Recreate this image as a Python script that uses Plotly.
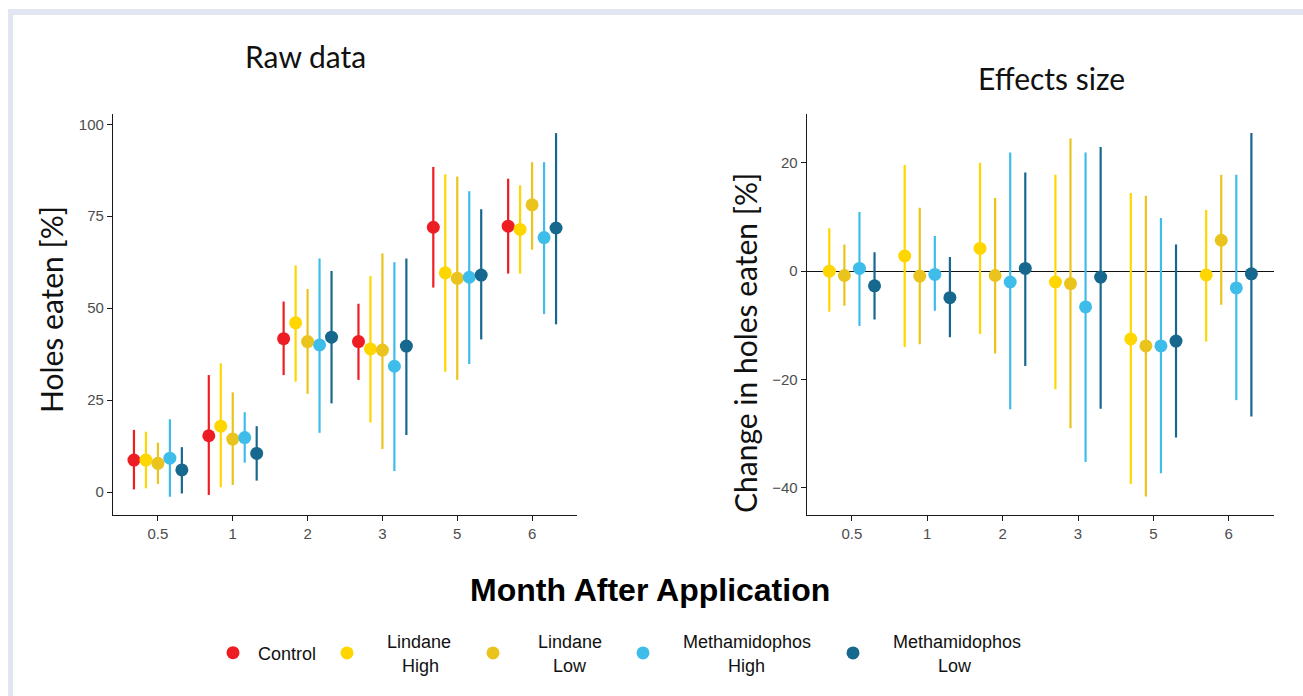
import plotly.graph_objects as go

W, H = 1303, 696

months = ["0.5", "1", "2", "3", "5", "6"]

# ---- Raw data (holes eaten, %) ----
control_mean = [8.7, 15.3, 41.7, 40.9, 72.0, 72.3]
control_lo = [0.7, -0.8, 31.8, 30.5, 55.6, 59.4]
control_hi = [16.9, 31.8, 51.8, 51.2, 88.4, 85.2]

lindane_high_mean = [8.7, 17.9, 46.0, 38.9, 59.6, 71.4]
lindane_high_lo = [1.0, 1.3, 30.0, 18.9, 32.7, 59.4]
lindane_high_hi = [16.4, 35.0, 61.6, 58.7, 86.4, 83.4]

lindane_low_mean = [7.8, 14.4, 40.9, 38.6, 58.1, 78.1]
lindane_low_lo = [2.2, 1.9, 26.7, 11.7, 30.5, 65.9]
lindane_low_hi = [13.4, 27.1, 55.2, 64.9, 85.8, 89.7]

meth_high_mean = [9.2, 14.8, 40.0, 34.2, 58.4, 69.2]
meth_high_lo = [-1.3, 8.0, 16.1, 5.7, 34.8, 48.4]
meth_high_hi = [19.8, 21.7, 63.5, 62.5, 81.8, 89.7]

meth_low_mean = [6.0, 10.5, 42.1, 39.7, 59.0, 71.8]
meth_low_lo = [-0.4, 3.1, 24.1, 15.5, 41.5, 45.6]
meth_low_hi = [12.2, 17.9, 60.1, 63.5, 76.9, 97.6]

# ---- Effect sizes (change in holes eaten, %) ----
eff_lindane_high_mean = [0.0, 2.8, 4.2, -2.0, -12.5, -0.7]
eff_lindane_high_lo = [-7.5, -14.0, -11.6, -21.8, -39.3, -13.0]
eff_lindane_high_hi = [7.9, 19.6, 20.0, 17.8, 14.4, 11.3]

eff_lindane_low_mean = [-0.8, -0.9, -0.8, -2.3, -13.8, 5.7]
eff_lindane_low_lo = [-6.4, -13.5, -15.2, -29.0, -41.6, -6.2]
eff_lindane_low_hi = [4.9, 11.7, 13.5, 24.5, 13.9, 17.8]

eff_meth_high_mean = [0.5, -0.6, -2.0, -6.6, -13.8, -3.1]
eff_meth_high_lo = [-10.1, -7.3, -25.5, -35.2, -37.3, -23.8]
eff_meth_high_hi = [10.9, 6.5, 21.9, 21.9, 9.8, 17.8]

eff_meth_low_mean = [-2.7, -4.9, 0.5, -1.1, -12.9, -0.5]
eff_meth_low_lo = [-8.9, -12.2, -17.5, -25.4, -30.7, -26.8]
eff_meth_low_hi = [3.5, 2.6, 18.2, 22.9, 4.9, 25.5]

treatments = ["Control", "Lindane High", "Lindane Low", "Methamidophos High", "Methamidophos Low"]
colors = ["#EE1D23", "#FFD600", "#EAC41C", "#3FBDEA", "#17688E"]

# legend labels (second line centred under first with no-break spaces)
NB = "\u00a0"
legend_labels = [
    NB + "Control",
    NB * 4 + "Lindane<br>" + NB * 4 + NB * 3 + "High",
    NB * 5 + "Lindane<br>" + NB * 5 + NB * 3 + "Low",
    NB * 4 + "Methamidophos<br>" + NB * 4 + NB * 9 + "High",
    NB * 4 + "Methamidophos<br>" + NB * 4 + NB * 9 + "Low",
]
legend_marker_px = [233, 347, 493, 643, 853]

raw_series = [
    (control_mean, control_lo, control_hi),
    (lindane_high_mean, lindane_high_lo, lindane_high_hi),
    (lindane_low_mean, lindane_low_lo, lindane_low_hi),
    (meth_high_mean, meth_high_lo, meth_high_hi),
    (meth_low_mean, meth_low_lo, meth_low_hi),
]
eff_series = [
    (eff_lindane_high_mean, eff_lindane_high_lo, eff_lindane_high_hi),
    (eff_lindane_low_mean, eff_lindane_low_lo, eff_lindane_low_hi),
    (eff_meth_high_mean, eff_meth_high_lo, eff_meth_high_hi),
    (eff_meth_low_mean, eff_meth_low_lo, eff_meth_low_hi),
]


def px(x):
    return x / W


def py(y):
    return 1 - y / H


def dodge(n_groups, i, width=0.8):
    step = width / n_groups
    return (i - (n_groups - 1) / 2) * step


fig = go.Figure()

# raw data panel
for i, (m, lo, hi) in enumerate(raw_series):
    xs = [k + dodge(5, i) for k in range(len(months))]
    leg = "legend" if i == 0 else f"legend{i + 1}"
    fig.add_trace(go.Scatter(
        x=xs, y=m, mode="markers", name=legend_labels[i],
        legendgroup=treatments[i], showlegend=True, legend=leg,
        marker=dict(color=colors[i], size=13),
        error_y=dict(type="data", symmetric=False,
                     array=[h - v for h, v in zip(hi, m)],
                     arrayminus=[v - l for v, l in zip(m, lo)],
                     color=colors[i], thickness=2.2, width=0),
        xaxis="x", yaxis="y",
    ))

# effect size panel
for j, (m, lo, hi) in enumerate(eff_series):
    i = j + 1
    xs = [k + dodge(4, j) for k in range(len(months))]
    fig.add_trace(go.Scatter(
        x=xs, y=m, mode="markers", name=treatments[i],
        legendgroup=treatments[i], showlegend=False,
        marker=dict(color=colors[i], size=13),
        error_y=dict(type="data", symmetric=False,
                     array=[h - v for h, v in zip(hi, m)],
                     arrayminus=[v - l for v, l in zip(m, lo)],
                     color=colors[i], thickness=2.2, width=0),
        xaxis="x2", yaxis="y2",
    ))

tickfont = dict(family="Liberation Sans, Arial, sans-serif", size=15, color="#4D4D4D")
common_x = dict(
    range=[-0.6, 5.6], tickmode="array", tickvals=list(range(len(months))), ticktext=months,
    showline=True, linecolor="#1a1a1a", linewidth=1.2, ticks="outside", ticklen=5,
    tickcolor="#1a1a1a", tickwidth=1.1, showgrid=False, zeroline=False, tickfont=tickfont,
)
common_y = dict(
    showline=True, linecolor="#1a1a1a", linewidth=1.2, ticks="outside", ticklen=5,
    tickcolor="#1a1a1a", tickwidth=1.1, showgrid=False, tickfont=tickfont,
)

ydom = [py(515), py(114)]

legends = {}
for i in range(5):
    key = "legend" if i == 0 else f"legend{i + 1}"
    legends[key] = dict(
        x=px(legend_marker_px[i] - 20), y=py(653), xanchor="left", yanchor="middle",
        orientation="h", bgcolor="rgba(0,0,0,0)", borderwidth=0,
        font=dict(family="Liberation Sans, Arial, sans-serif", size=18, color="#111111"),
    )

fig.update_layout(
    width=W, height=H, autosize=False,
    margin=dict(l=0, r=0, t=0, b=0),
    paper_bgcolor="white", plot_bgcolor="white",
    xaxis=dict(domain=[px(113), px(577)], anchor="y", **common_x),
    yaxis=dict(domain=ydom, anchor="x", range=[-6.25, 102.8],
               tickvals=[0, 25, 50, 75, 100], zeroline=False, **common_y),
    xaxis2=dict(domain=[px(806.7), px(1274)], anchor="y2", **common_x),
    yaxis2=dict(domain=ydom, anchor="x2", range=[-45.0, 29.0],
                tickvals=[-40, -20, 0, 20], zeroline=True, zerolinecolor="#111111",
                zerolinewidth=1.4, **common_y),
    **legends,
    shapes=[
        dict(type="rect", xref="paper", yref="paper", x0=px(8), x1=1, y0=py(15), y1=py(9),
             fillcolor="#E1E6F2", line=dict(width=0), layer="below"),
        dict(type="rect", xref="paper", yref="paper", x0=px(8), x1=px(13), y0=0, y1=py(9),
             fillcolor="#E1E6F2", line=dict(width=0), layer="below"),
    ],
    annotations=[
        dict(text="Raw data", x=px(305), y=py(56), xref="paper", yref="paper",
             xanchor="center", yanchor="middle", showarrow=False,
             font=dict(family="Lato, sans-serif", size=30, color="#111111")),
        dict(text="Effects size", x=px(1051), y=py(78), xref="paper", yref="paper",
             xanchor="center", yanchor="middle", showarrow=False,
             font=dict(family="Lato, sans-serif", size=30, color="#111111")),
        dict(text="Holes eaten [%]", x=px(51), y=py(310), xref="paper", yref="paper",
             xanchor="center", yanchor="middle", showarrow=False, textangle=-90,
             font=dict(family="Lato, sans-serif", size=30, color="#111111")),
        dict(text="Change in holes eaten [%]", x=px(745), y=py(343), xref="paper", yref="paper",
             xanchor="center", yanchor="middle", showarrow=False, textangle=-90,
             font=dict(family="Lato, sans-serif", size=30, color="#111111")),
        dict(text="<b>Month After Application</b>", x=px(650), y=py(590), xref="paper", yref="paper",
             xanchor="center", yanchor="middle", showarrow=False,
             font=dict(family="Liberation Sans, Arial, sans-serif", size=32, color="#000000")),
    ],
)

fig.write_html("out.html")
